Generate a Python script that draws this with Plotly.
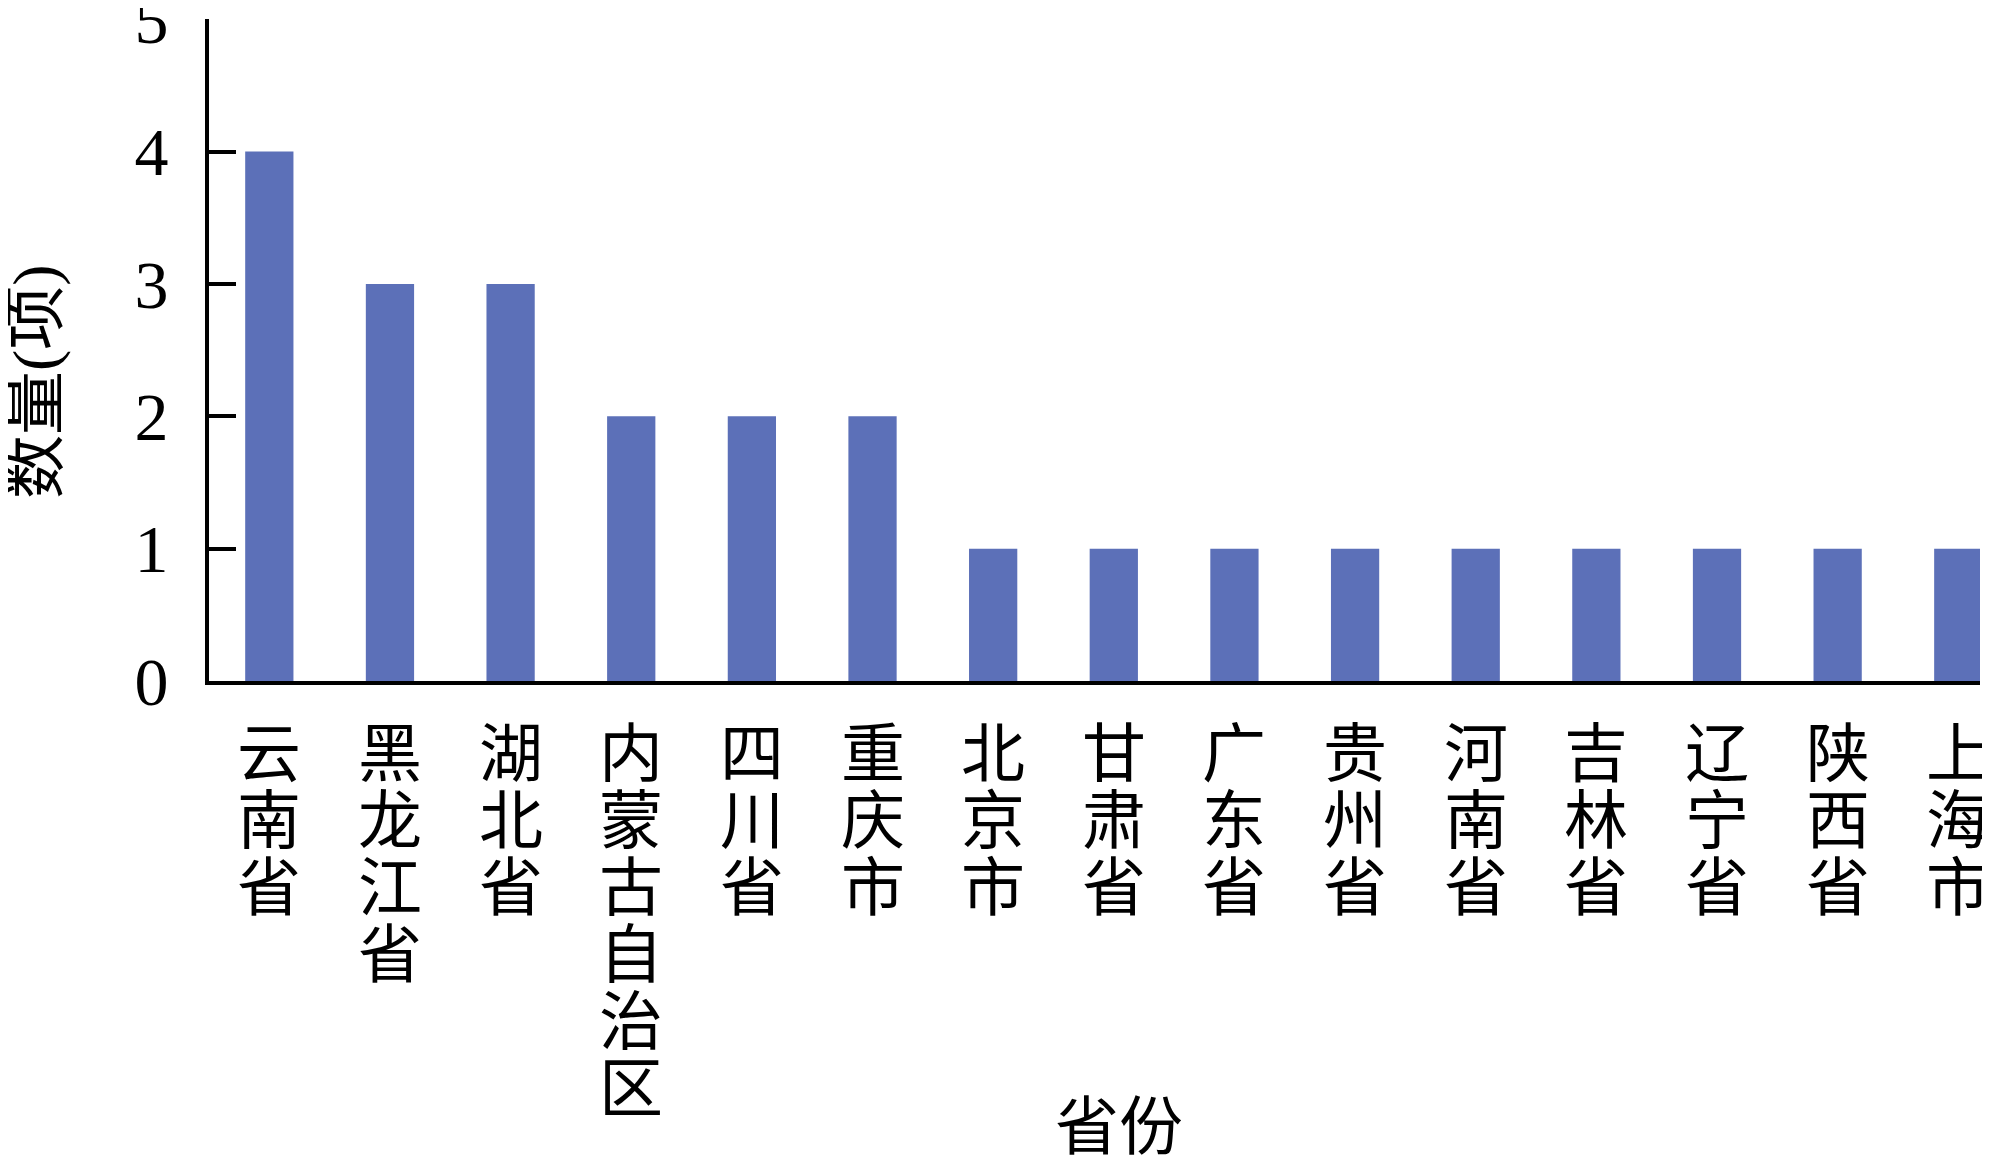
import plotly.graph_objects as go

provinces = ["云南省", "黑龙江省", "湖北省", "内蒙古自治区", "四川省", "重庆市", "北京市",
             "甘肃省", "广东省", "贵州省", "河南省", "吉林省", "辽宁省", "陕西省", "上海市"]
counts = [4, 3, 3, 2, 2, 2, 1, 1, 1, 1, 1, 1, 1, 1, 1]
y_ticks = [0, 1, 2, 3, 4, 5]

cjk = "Noto Sans CJK SC"
num_font = "Liberation Serif"
bar_color = "#5C70B8"

fig = go.Figure()
fig.add_trace(go.Bar(x=list(range(len(provinces))), y=counts, width=0.4,
                     marker=dict(color=bar_color, line=dict(width=0))))

# vertical category labels, one character per line
annotations = []
for i, name in enumerate(provinces):
    for j, ch in enumerate(name):
        annotations.append(dict(x=i, y=0, xref="x", yref="y", text=ch, showarrow=False,
                                xanchor="center", yanchor="middle", yshift=-(67 + j * 67),
                                font=dict(family=cjk, size=64, color="black")))

annotations.append(dict(x=0, y=0.5, xref="paper", yref="paper", text="数量(项)",
                        textangle=-90, showarrow=False, xanchor="center", yanchor="middle",
                        xshift=-174, yshift=-32,
                        font=dict(family=num_font + ", " + cjk, size=64, color="black")))
annotations.append(dict(x=0.5, y=0, xref="paper", yref="paper", text="省份",
                        showarrow=False, xanchor="center", yanchor="middle",
                        xshift=24, yshift=-440,
                        font=dict(family=cjk, size=64, color="black")))

# page body adds an 8px offset, so the figure is a little smaller than the window
fig.update_layout(
    width=1982, height=1152,
    margin=dict(l=201, r=10, t=11, b=479, autoexpand=False),
    plot_bgcolor="white", paper_bgcolor="white",
    showlegend=False,
    annotations=annotations,
)
fig.update_xaxes(range=[-0.5, 14.18], showline=True, linecolor="black", linewidth=4,
                 showgrid=False, zeroline=False, ticks="", showticklabels=False,
                 automargin=False)
fig.update_yaxes(range=[0, 5.002], tickvals=y_ticks, showline=True, linecolor="black", linewidth=4,
                 showgrid=False, zeroline=False, ticks="inside", ticklen=27, tickwidth=4,
                 tickcolor="black", ticklabelstandoff=23, automargin=False,
                 ticklabeloverflow="allow",
                 tickfont=dict(family=num_font, size=68, color="black"))

fig.write_html("out.html")
